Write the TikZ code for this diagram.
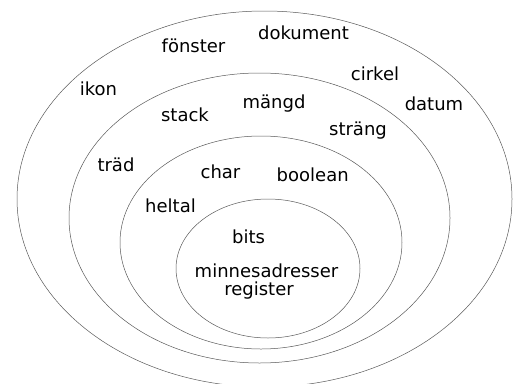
\documentclass[tikz,border=0pt]{standalone}
\usepackage{fontspec}
\setmainfont{DejaVu Sans}
\begin{document}
\begin{tikzpicture}[x=1pt,y=-1pt,
  ring/.style={draw=black!65,line width=0.5pt},
  word/.style={anchor=base,inner sep=0pt,font=\fontsize{18}{20}\selectfont}]
\useasboundingbox (0,0) rectangle (513,383);
\begin{scope}
\clip (0,0) rectangle (513,383);
% nested sets
\draw[ring] (264.5,199) ellipse [x radius=247.5, y radius=188];
\draw[ring] (259.5,218) ellipse [x radius=190.5, y radius=145];
\draw[ring] (261,242.5) ellipse [x radius=141, y radius=106.5];
\draw[ring] (268,268.5) ellipse [x radius=92, y radius=69.5];
\end{scope}
% outer ring
\node[word] (fonster) at (193.5,52.5) {fönster};
\node[word] (dokument) at (303.5,39.5) {dokument};
\node[word] (ikon) at (98.5,95) {ikon};
\node[word] (cirkel) at (375,80) {cirkel};
\node[word] (datum) at (434,110.5) {datum};
% second ring
\node[word] (mangd) at (274,108) {mängd};
\node[word] (stack) at (185,121.7) {stack};
\node[word] (strang) at (358,135) {sträng};
\node[word] (trad) at (116,171) {träd};
% third ring
\node[word] (char) at (220.5,178) {char};
\node[word] (boolean) at (312.7,181) {boolean};
\node[word] (heltal) at (170.5,212.7) {heltal};
% core
\node[word] (bits) at (248.5,243) {bits};
\node[word] (minne) at (266.5,277) {minnesadresser};
\node[word] (register) at (259,295.7) {register};
\end{tikzpicture}
\end{document}
